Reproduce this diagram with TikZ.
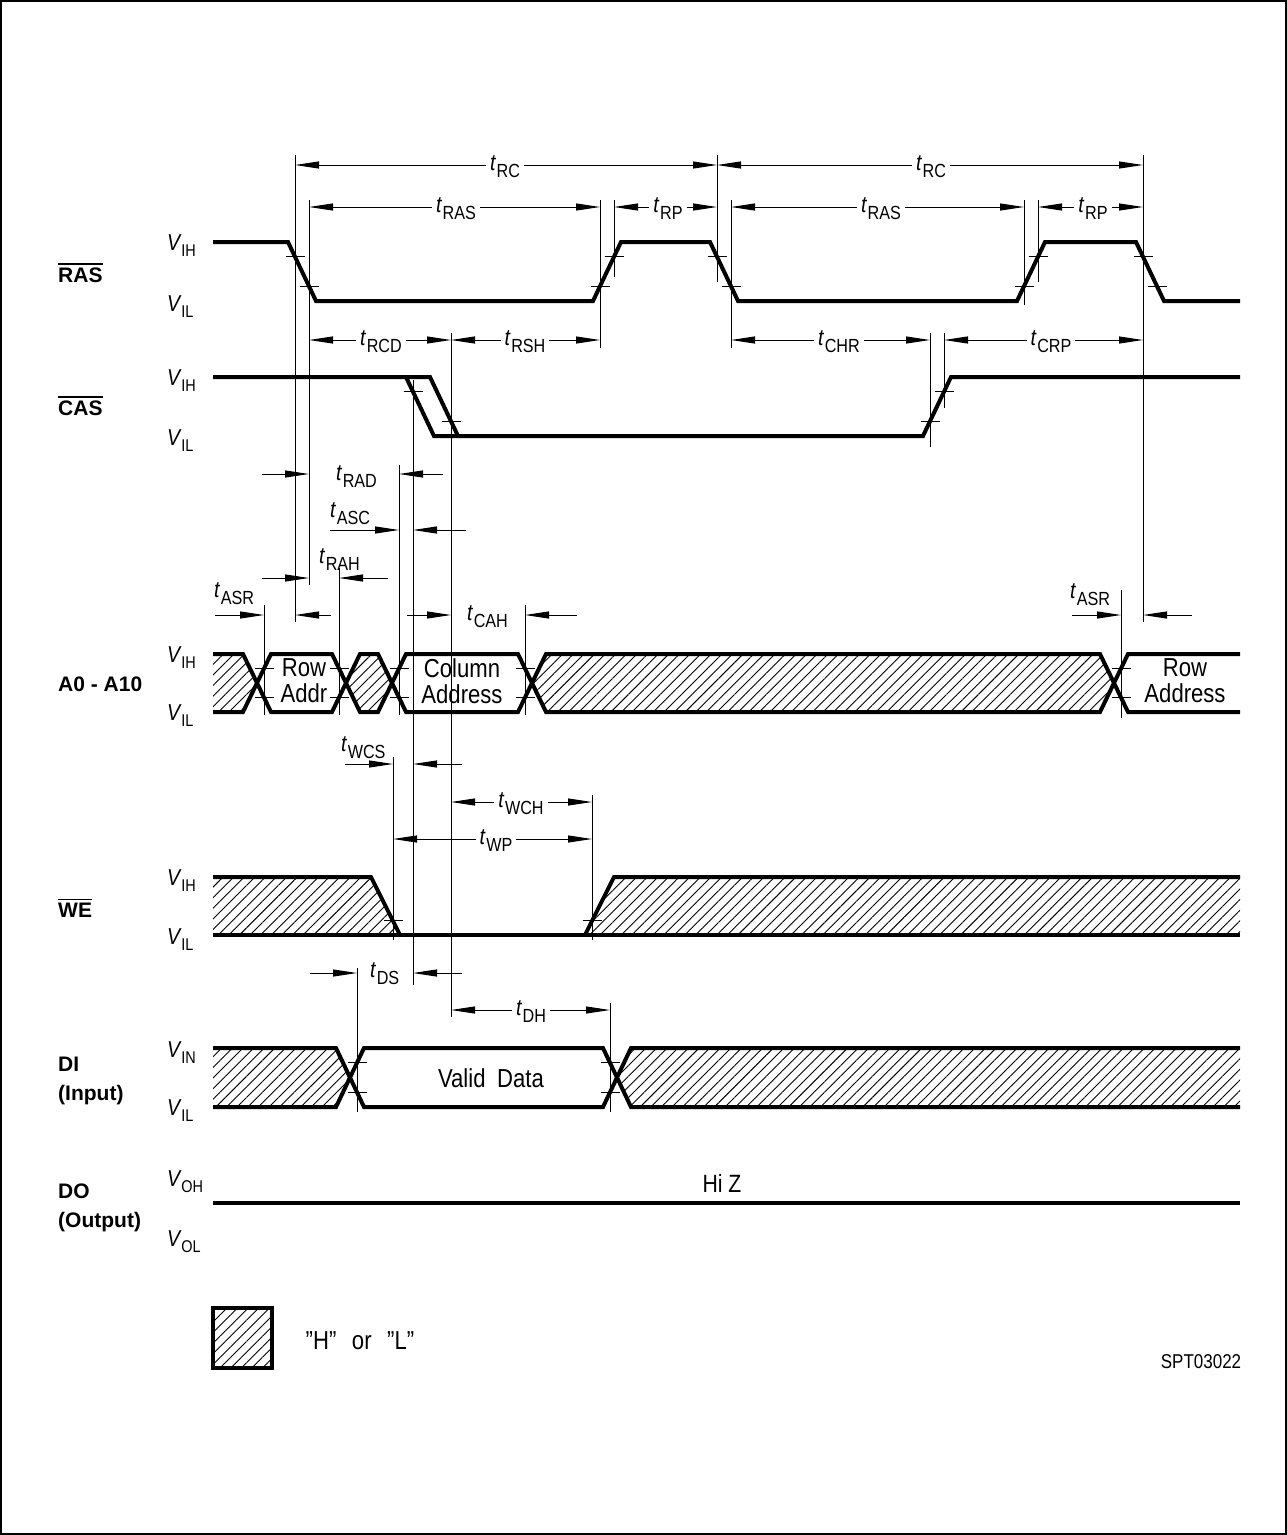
\documentclass[tikz,border=0pt]{standalone}
\usepackage{fontspec}
\setmainfont{Liberation Sans}[FakeStretch=0.85]
\newfontfamily\namefont{Liberation Sans}
\usetikzlibrary{arrows.meta,patterns.meta}
\newcommand\tl[1]{\textit{t}\kern0.5pt\raisebox{-7pt}{\fontsize{19}{19}\selectfont #1}}
\newcommand\vl[1]{\textit{V}\kern-0.5pt\raisebox{-6pt}{\fontsize{17}{17}\selectfont #1}}
\newcommand\ovl[1]{\vbox{\hrule height 1.4pt\kern2.5pt\hbox{#1}}}
\begin{document}
\begin{tikzpicture}[x=1pt,y=-1pt,
  sig/.style={line width=4pt,line join=miter},
  ext/.style={line width=1pt},
  tk/.style={line width=1pt},
  dima/.style={line width=1pt,{Triangle[length=24pt,width=7pt]}-{Triangle[length=24pt,width=7pt]}},
  onea/.style={line width=1pt,-{Triangle[length=24pt,width=7pt]}},
  hatch/.style={pattern={Lines[angle=45,distance=7.5pt,line width=0.9pt]}},
  tlab/.style={font=\fontsize{23}{23}\selectfont,fill=white,inner sep=4pt,anchor=base},
  tlabf/.style={font=\fontsize{23}{23}\selectfont,inner sep=0pt,anchor=base west},
  vlab/.style={font=\fontsize{23}{23}\selectfont,inner sep=0pt,anchor=base west},
  signame/.style={font=\namefont\bfseries\fontsize{21}{25}\selectfont,inner sep=0pt,anchor=base west},
  txt/.style={font=\fontsize{26}{26}\selectfont,align=center,inner sep=0pt}]
\useasboundingbox (0,0) rectangle (1287,1535);
\draw[line width=1.2pt] (1,1) rectangle (1286,1534);

% ---------- hatched (H or L) regions
\fill[hatch] (213,654) -- (243,654) -- (257,683) -- (243,712) -- (213,712) -- cycle;
\fill[hatch] (346,683) -- (360,654) -- (378,654) -- (392,683) -- (378,712) -- (360,712) -- cycle;
\fill[hatch] (532,683) -- (546,654) -- (1100,654) -- (1114,683) -- (1100,712) -- (546,712) -- cycle;
\fill[hatch] (213,877) -- (371,877) -- (400,935) -- (213,935) -- cycle;
\fill[hatch] (585,935) -- (614,877) -- (1240,877) -- (1240,935) -- cycle;
\fill[hatch] (213,1048) -- (336,1048) -- (350,1077.5) -- (336,1107) -- (213,1107) -- cycle;
\fill[hatch] (617,1077.5) -- (631,1048) -- (1240,1048) -- (1240,1107) -- (631,1107) -- cycle;

% ---------- signals
\draw[sig] (213,242) -- (288,242) -- (316,301) -- (593,301) -- (621,242) -- (710,242) -- (738,301) -- (1017,301) -- (1045,242) -- (1136,242) -- (1164,301) -- (1240,301);
\draw[sig] (213,377) -- (430,377) -- (458,436);
\draw[sig] (406,377) -- (434,436) -- (923,436) -- (951,377) -- (1240,377);
\draw[sig] (213,654) -- (243,654) -- (271,712) -- (332,712) -- (360,654) -- (378,654) -- (406,712) -- (518,712) -- (546,654) -- (1100,654) -- (1128,712) -- (1240,712);
\draw[sig] (213,712) -- (243,712) -- (271,654) -- (332,654) -- (360,712) -- (378,712) -- (406,654) -- (518,654) -- (546,712) -- (1100,712) -- (1128,654) -- (1240,654);
\draw[sig] (213,877) -- (371,877) -- (400,935);
\draw[sig] (213,935) -- (1240,935);
\draw[sig] (585,935) -- (614,877) -- (1240,877);
\draw[sig] (213,1048) -- (336,1048) -- (364,1107) -- (603,1107) -- (631,1048) -- (1240,1048);
\draw[sig] (213,1107) -- (336,1107) -- (364,1048) -- (603,1048) -- (631,1107) -- (1240,1107);
\draw[sig] (213,1203) -- (1240,1203);

% ---------- threshold ticks
\foreach \x/\y in {295/256.75,309/286.25,600/286.25,614/256.75,717/256.75,731/286.25,1024/286.25,1038/256.75,1143/256.75,1157/286.25,
  413/391.75,451/421.25,930/421.25,944/391.75,393/920.5,592/920.5,
  264/668.5,264/697.5,339/668.5,339/697.5,399/668.5,399/697.5,525/668.5,525/697.5,1121/668.5,1121/697.5,
  357/1062.75,357/1092.25,610/1062.75,610/1092.25}
  \draw[tk] (\x-9.5,\y) -- (\x+9.5,\y);

% ---------- extension lines
\foreach \x/\a/\b in {295/155/622,309/200/585,600/200/348,614/200/277,717/155/282,731/200/348,1024/200/305,1038/200/282,1143/155/622,
  413/380/985,451/333/1017,930/333/447,944/333/408,264/605/715,339/568/715,399/465/715,525/605/715,1121/590/718,
  393/757/940,592/795/940,357/968/1112,610/1003/1112}
  \draw[ext] (\x,\a) -- (\x,\b);

% ---------- dimension arrows
\draw[dima] (295,165) -- (717,165);
\draw[dima] (717,165) -- (1143,165);
\draw[dima] (309,207) -- (600,207);
\draw[dima] (614,207) -- (717,207);
\draw[dima] (731,207) -- (1024,207);
\draw[dima] (1038,207) -- (1143,207);
\draw[dima] (309,340) -- (451,340);
\draw[dima] (451,340) -- (600,340);
\draw[dima] (731,340) -- (930,340);
\draw[dima] (944,340) -- (1143,340);
\draw[dima] (451,802) -- (592,802);
\draw[dima] (393,839) -- (592,839);
\draw[dima] (451,1010) -- (610,1010);

\node[tlab] (trc1) at (505,170) {\tl{RC}};
\node[tlab] (trc2) at (931,170) {\tl{RC}};
\node[tlab] (tras1) at (456,212) {\tl{RAS}};
\node[tlab] (tras2) at (881,212) {\tl{RAS}};
\node[tlab] (trp1) at (668,212) {\tl{RP}};
\node[tlab] (trp2) at (1093,212) {\tl{RP}};
\node[tlab] (trcd) at (381,345) {\tl{RCD}};
\node[tlab] (trsh) at (525,345) {\tl{RSH}};
\node[tlab] (tchr) at (839,345) {\tl{CHR}};
\node[tlab] (tcrp) at (1051,345) {\tl{CRP}};
\node[tlab] (twch) at (521,807) {\tl{WCH}};
\node[tlab] (twp) at (496,844) {\tl{WP}};
\node[tlab] (tdh) at (531,1015) {\tl{DH}};

% ---------- one-sided arrows
\draw[onea] (262,474) -- (309,474);
\draw[onea] (443,474) -- (399,474);
\draw[onea] (330,530) -- (399,530);
\draw[onea] (466,530) -- (413,530);
\draw[onea] (262,578) -- (309,578);
\draw[onea] (388,578) -- (339,578);
\draw[onea] (215,615) -- (264,615);
\draw[onea] (331,615) -- (295,615);
\draw[onea] (407,615) -- (451,615);
\draw[onea] (577,615) -- (525,615);
\draw[onea] (1072,615) -- (1121,615);
\draw[onea] (1192,615) -- (1143,615);
\draw[onea] (345,764) -- (393,764);
\draw[onea] (462,764) -- (413,764);
\draw[onea] (310,973) -- (357,973);
\draw[onea] (462,973) -- (413,973);

\node[tlabf] (trad) at (336,480) {\tl{RAD}};
\node[tlabf] (tasc) at (330,517) {\tl{ASC}};
\node[tlabf] (trah) at (319,563) {\tl{RAH}};
\node[tlabf] (tasr1) at (214,597) {\tl{ASR}};
\node[tlabf] (tcah) at (467,620) {\tl{CAH}};
\node[tlabf] (tasr2) at (1070,598) {\tl{ASR}};
\node[tlabf] (twcs) at (341,751) {\tl{WCS}};
\node[tlabf] (tds) at (370,977) {\tl{DS}};

% ---------- texts inside signals
\node[txt] (rowaddr) at (304,681) {Row\\Addr};
\node[txt] (coladdr) at (462,681) {Column\\Address};
\node[txt] (rowaddr2) at (1185,681) {Row\\Address};
\node[txt] (valid) at (491,1078) {Valid\hspace{0.45em}Data};
\node[txt,font=\fontsize{25}{25}\selectfont] (hiz) at (722,1183) {Hi Z};

% ---------- signal names
\node[signame] (nras) at (58,282) {\ovl{RAS}};
\node[signame] (ncas) at (58,415) {\ovl{CAS}};
\node[signame] (naddr) at (58,691) {A0 - A10};
\node[signame] (nwe) at (58,917) {\ovl{WE}};
\node[signame] (ndi) at (58,1071) {DI};
\node[signame] (ndi2) at (58,1100) {(Input)};
\node[signame] (ndo) at (58,1198) {DO};
\node[signame] (ndo2) at (58,1227) {(Output)};

% ---------- level labels
\node[vlab] (v1) at (167,250) {\vl{IH}};
\node[vlab] (v2) at (167,311) {\vl{IL}};
\node[vlab] (v3) at (167,385) {\vl{IH}};
\node[vlab] (v4) at (167,445) {\vl{IL}};
\node[vlab] (v5) at (167,662) {\vl{IH}};
\node[vlab] (v6) at (167,720) {\vl{IL}};
\node[vlab] (v7) at (167,885) {\vl{IH}};
\node[vlab] (v8) at (167,944) {\vl{IL}};
\node[vlab] (v9) at (167,1057) {\vl{IN}};
\node[vlab] (v10) at (167,1115) {\vl{IL}};
\node[vlab] (v11) at (167,1186) {\vl{OH}};
\node[vlab] (v12) at (167,1246) {\vl{OL}};

% ---------- legend
\fill[hatch] (213,1308) rectangle (272,1368);
\draw[sig] (213,1308) rectangle (272,1368);
\node[txt,font=\fontsize{26}{26}\selectfont] (leg) at (360,1341) {”H”\hspace{0.6em}or\hspace{0.6em}”L”};
\node[txt,font=\fontsize{20}{20}\selectfont] (spt) at (1201,1362) {SPT03022};
\end{tikzpicture}
\end{document}
